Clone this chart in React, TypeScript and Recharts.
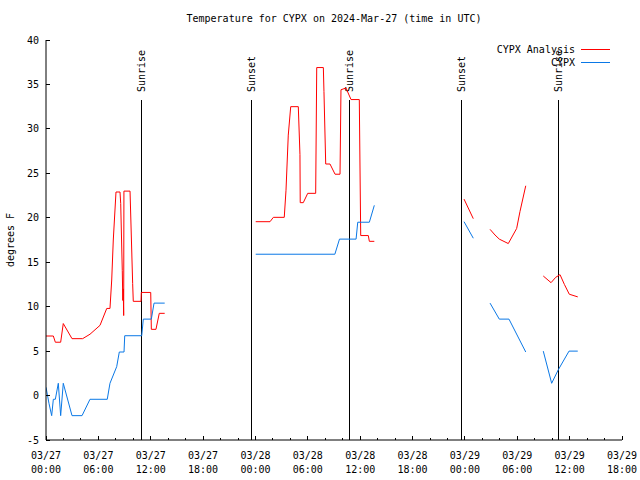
import { LineChart, Line, XAxis, YAxis, ReferenceLine, Legend } from 'recharts'

const FONT = '"DejaVu Sans Mono", monospace'
const RED = '#ff0000'
const BLUE = '#0a78e6'

// hours since 2024-03-27 00:00 UTC; null = gap in the record
const analysisHours = [
  0, 0.84, 1.07, 1.68, 1.98, 2.98, 4.2, 5.04, 6.19, 6.96, 7.33, 7.53, 7.71, 8.02, 8.48, 8.56,
  8.74, 8.8, 8.85, 8.9, 8.93, 9.63, 9.93, 10.0, 10.89, 10.92, 12.0, 12.07, 12.6, 12.98, 13.6,
  18,
  24.03, 25.67, 26.05, 27.3, 27.5, 27.76, 28.04, 28.91, 29.1, 29.13, 29.48, 29.99, 30.9, 31.02,
  31.78, 31.85, 32.05, 32.54, 33.12, 33.69, 33.8, 34.37, 34.95, 35.9, 35.98, 36.06, 36.93, 37.05,
  37.62,
  42,
  47.9, 48.96,
  50,
  50.88, 51.45, 51.94, 52.97, 53.93, 54.31, 54.97,
  56,
  56.98, 57.87, 58.4, 58.9, 59.4, 59.96, 60.93,
]
const analysisTemps = [
  6.7, 6.7, 6.0, 6.0, 8.1, 6.4, 6.4, 6.9, 7.9, 9.8, 9.8, 13.0, 17.5, 22.9, 22.9, 21.6,
  14.1, 10.7, 12.0, 9.0, 23.0, 23.0, 12.6, 10.6, 10.6, 11.6, 11.6, 7.45, 7.45, 9.25, 9.25,
  null,
  19.56, 19.56, 20.05, 20.05, 23.1, 29.3, 32.5, 32.5, 27.1, 21.7, 21.7, 22.75, 22.75, 36.9,
  36.9, 34.2, 26.05, 26.05, 24.9, 24.9, 34.4, 34.6, 33.3, 33.3, 25.6, 18.0, 18.0, 17.35,
  17.35,
  null,
  22.1, 19.9,
  null,
  18.7, 18.06, 17.6, 17.1, 18.8, 20.7, 23.6,
  null,
  13.45, 12.7, 13.3, 13.6, 12.5, 11.4, 11.1,
]

const obsHours = [
  0, 0.34, 0.65, 0.84, 1.07, 1.41, 1.68, 1.98, 2.98, 4.13, 5.04, 7.02, 7.33, 8.1, 8.4, 8.94,
  9.02, 10.97, 11.15, 12.07, 12.38, 13.6,
  18,
  24.03, 33.1, 33.63, 35.53, 35.72, 37.05, 37.62,
  42,
  47.9, 48.96,
  50,
  50.88, 51.94, 53.05, 54.97,
  56,
  56.98, 57.94, 58.7, 59.93, 60.93,
]
const obsTemps = [
  0.93, -0.87, -2.26, -0.42, -0.42, 1.38, -2.26, 1.38, -2.26, -2.26, -0.42, -0.42, 1.38, 3.25, 4.9, 4.9,
  6.73, 6.73, 8.6, 8.6, 10.4, 10.4,
  null,
  15.9, 15.9, 17.6, 17.6, 19.5, 19.5, 21.4,
  null,
  19.56, 17.7,
  null,
  10.4, 8.6, 8.6, 4.9,
  null,
  5.0, 1.38, 2.9, 5.0, 5.0,
]

const eventHours = [10.92, 23.57, 34.75, 47.63, 58.7]
const eventNames = ['Sunrise', 'Sunset', 'Sunrise', 'Sunset', 'Sunrise']

const tickDays = ['03/27', '03/27', '03/27', '03/27', '03/28', '03/28', '03/28', '03/28', '03/29', '03/29', '03/29', '03/29']
const tickClock = ['00:00', '06:00', '12:00', '18:00', '00:00', '06:00', '12:00', '18:00', '00:00', '06:00', '12:00', '18:00']
const yTicks = [-5, 0, 5, 10, 15, 20, 25, 30, 35, 40]

const X_MAX = 66
const Y_TOP_OF_EVENTS = 33.25

const xTicks = Array.from({ length: X_MAX / 2 + 1 }, (_, i) => i * 2)

const analysisData = analysisHours.map((h, i) => ({ h, v: analysisTemps[i] }))
const obsData = obsHours.map((h, i) => ({ h, v: obsTemps[i] }))

const txt = { fontFamily: FONT, fontSize: 10, fill: '#000' }

function BottomTick({ x, y, payload }: any) {
  const major = payload.value % 6 === 0
  const i = payload.value / 6
  return (
    <g>
      <line x1={x} x2={x} y1={y} y2={y - (major ? 4 : 2)} stroke="#000" shapeRendering="crispEdges" />
      {major && (
        <>
          <text x={x} y={y + 15} textAnchor="middle" dominantBaseline="central" {...txt}>{tickDays[i]}</text>
          <text x={x} y={y + 29} textAnchor="middle" dominantBaseline="central" {...txt}>{tickClock[i]}</text>
        </>
      )}
    </g>
  )
}

function TopTick({ x, y, payload }: any) {
  const major = payload.value % 6 === 0
  return <line x1={x} x2={x} y1={y} y2={y + (major ? 4 : 2)} stroke="#000" shapeRendering="crispEdges" />
}

function LeftTick({ x, y, payload }: any) {
  return (
    <g>
      <line x1={x} x2={x + 4} y1={y} y2={y} stroke="#000" shapeRendering="crispEdges" />
      <text x={x - 7} y={y} textAnchor="end" dominantBaseline="central" {...txt}>{payload.value}</text>
    </g>
  )
}

function RightTick({ x, y }: any) {
  return <line x1={x} x2={x - 4} y1={y} y2={y} stroke="#000" shapeRendering="crispEdges" />
}

function eventLabel(name: string) {
  return ({ viewBox }: any) => {
    const x = viewBox.x
    const y = viewBox.y - 8
    return (
      <text x={x} y={y} transform={`rotate(-90 ${x} ${y})`} textAnchor="start" dominantBaseline="central" {...txt}>
        {name}
      </text>
    )
  }
}

function LegendBox() {
  const rows = [
    { name: 'CYPX Analysis', color: RED },
    { name: 'CYPX', color: BLUE },
  ]
  return (
    <div style={{ fontFamily: FONT, fontSize: 10, lineHeight: '13px' }}>
      {rows.map(r => (
        <div key={r.name} style={{ display: 'flex', justifyContent: 'flex-end', alignItems: 'center', height: 13 }}>
          <span>{r.name}</span>
          <div style={{ width: 29, height: 1, background: r.color, marginLeft: 6 }} />
        </div>
      ))}
    </div>
  )
}

export default function App() {
  return (
    <div style={{ position: 'absolute', left: 0, top: 0, width: 640, height: 480, background: '#fff' }}>
      <div
        style={{
          position: 'absolute', left: 46, top: 13, width: 576, textAlign: 'center',
          fontFamily: FONT, fontSize: 10, lineHeight: '12px', color: '#000',
        }}
      >
        Temperature for CYPX on 2024-Mar-27 (time in UTC)
      </div>
      <LineChart width={640} height={480} margin={{ top: 40, right: 18, bottom: 0, left: 6 }}>
        <XAxis
          type="number" dataKey="h" domain={[0, X_MAX]} ticks={xTicks} interval={0}
          allowDataOverflow height={40} tickSize={0} tickMargin={0}
          axisLine={{ stroke: '#000' }} tickLine={false} tick={BottomTick}
        />
        <XAxis
          xAxisId="top" orientation="top" type="number" dataKey="h" domain={[0, X_MAX]} ticks={xTicks}
          interval={0} allowDataOverflow height={0} tickSize={0} tickMargin={0}
          axisLine={{ stroke: '#000' }} tickLine={false} tick={TopTick}
        />
        <YAxis
          type="number" domain={[-5, 40]} ticks={yTicks} interval={0} allowDataOverflow
          width={40} tickSize={0} tickMargin={0} axisLine={{ stroke: '#000' }} tickLine={false} tick={LeftTick}
          label={{
            content: ({ viewBox }: any) => {
              const x = viewBox.x + 4
              const y = viewBox.y + viewBox.height / 2
              return (
                <text x={x} y={y} transform={`rotate(-90 ${x} ${y})`} textAnchor="middle" dominantBaseline="central" {...txt}>
                  degrees F
                </text>
              )
            },
          }}
        />
        <YAxis
          yAxisId="right" orientation="right" type="number" domain={[-5, 40]} ticks={yTicks} interval={0}
          allowDataOverflow width={0} tickSize={0} tickMargin={0}
          axisLine={{ stroke: '#000' }} tickLine={false} tick={RightTick}
        />
        {eventHours.map((h, i) => (
          <ReferenceLine
            key={i}
            segment={[{ x: h, y: Y_TOP_OF_EVENTS }, { x: h, y: -5 }]}
            stroke="#000"
            strokeWidth={1}
            shapeRendering="crispEdges"
            label={{ content: eventLabel(eventNames[i]) }}
          />
        ))}
        <Line
          data={analysisData} dataKey="v" name="CYPX Analysis" type="linear" stroke={RED} strokeWidth={1}
          dot={false} activeDot={false} isAnimationActive={false}
        />
        <Line
          data={obsData} dataKey="v" name="CYPX" type="linear" stroke={BLUE} strokeWidth={1}
          dot={false} activeDot={false} isAnimationActive={false}
        />
        <Legend
          layout="horizontal" verticalAlign="middle" align="center"
          content={LegendBox}
          wrapperStyle={{ top: 43, left: 470, width: 140, bottom: 'auto', right: 'auto' }}
        />
      </LineChart>
    </div>
  )
}
